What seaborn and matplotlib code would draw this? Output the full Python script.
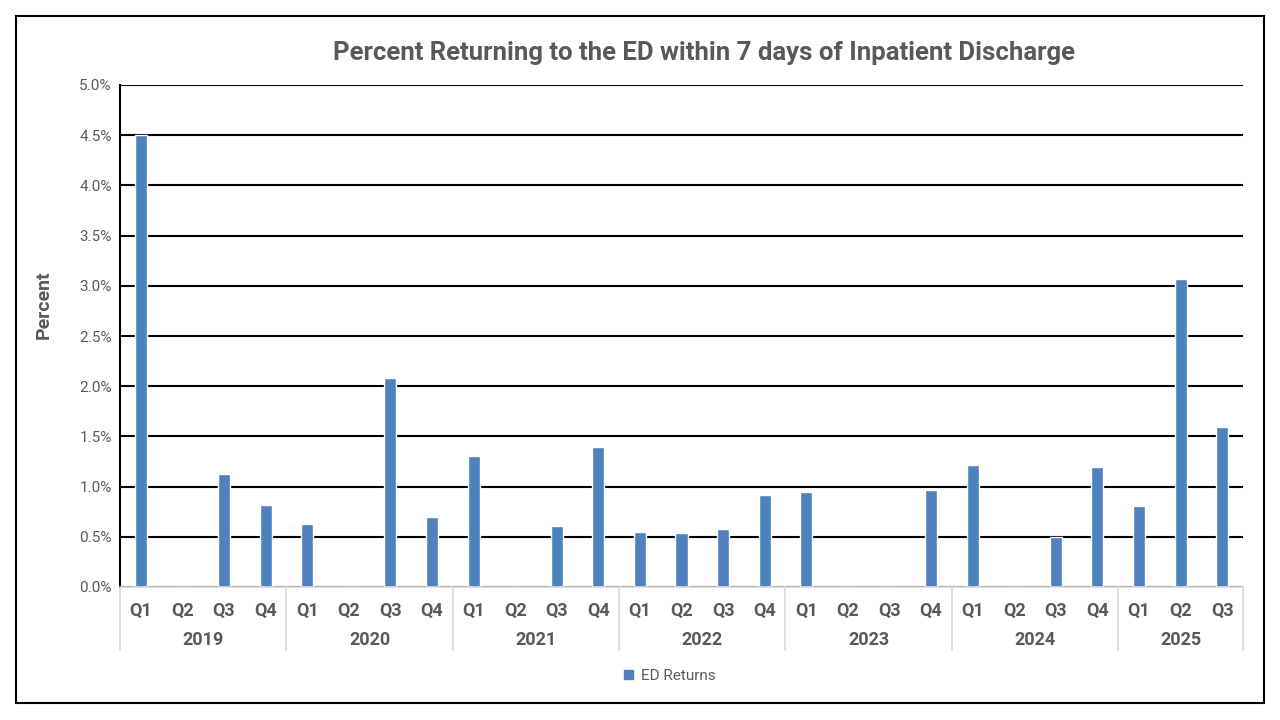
import matplotlib
matplotlib.use("Agg")
import matplotlib.pyplot as plt
import matplotlib.patches as mpatches
import matplotlib.transforms as mtransforms
from matplotlib.ticker import PercentFormatter, MultipleLocator
import seaborn as sns
import pandas as pd

# data (percent)
years = ["2019", "2020", "2021", "2022", "2023", "2024", "2025"]
quarters_per_year = [4, 4, 4, 4, 4, 4, 3]
quarter_names = ["Q1", "Q2", "Q3", "Q4"]
ed_returns = [
    4.50, 0.00, 1.13, 0.82,   # 2019
    0.63, 0.00, 2.08, 0.70,   # 2020
    1.30, 0.00, 0.61, 1.39,   # 2021
    0.55, 0.54, 0.58, 0.92,   # 2022
    0.95, 0.00, 0.00, 0.97,   # 2023
    1.22, 0.00, 0.50, 1.20,   # 2024
    0.81, 3.07, 1.59,         # 2025
]

rows = []
for yr, n in zip(years, quarters_per_year):
    for q in quarter_names[:n]:
        rows.append((yr, q, f"{yr} {q}"))
df = pd.DataFrame(rows, columns=["year", "quarter", "period"])
df["value"] = ed_returns

sns.set_theme(style="white")
plt.rcParams["font.family"] = ["Roboto", "DejaVu Sans"]

text_gray = "#595959"
bar_blue = "#4F81BD"

fig = plt.figure(figsize=(12.8, 7.2), dpi=100)
ax = fig.add_axes([120 / 1280, 1 - 587 / 720, (1243 - 120) / 1280, (587 - 85) / 720])

sns.barplot(data=df, x="period", y="value", color=bar_blue, width=0.29,
            saturation=1, ax=ax)

ax.set_ylim(0, 5)
ax.set_xlim(-0.5, len(df) - 0.5)
ax.yaxis.set_major_locator(MultipleLocator(0.5))
ax.yaxis.set_major_formatter(PercentFormatter(decimals=1))
ax.grid(axis="y", color="black", linewidth=1.5)
ax.set_axisbelow(True)

for side in ["top", "right"]:
    ax.spines[side].set_visible(False)
ax.spines["left"].set_color("black")
ax.spines["left"].set_linewidth(1.5)
ax.spines["bottom"].set_color("#D9D9D9")
ax.spines["bottom"].set_linewidth(1.2)

ax.set_xticks(range(len(df)))
ax.set_xticklabels(df["quarter"], fontsize=13, fontweight="bold", color=text_gray)
ax.tick_params(axis="x", length=0, pad=11)
ax.tick_params(axis="y", length=0, pad=6, labelsize=11, labelcolor=text_gray)
ax.set_xlabel("")
ax.set_ylabel("Percent", fontsize=14, fontweight="bold", color=text_gray)
ax.yaxis.set_label_coords(-0.06, 0.562)

# two-level category axis: year labels and separators
trans = mtransforms.blended_transform_factory(ax.transData, ax.transAxes)
start = 0
for yr, n in zip(years, quarters_per_year):
    ax.plot([start - 0.5, start - 0.5], [0, -0.125], transform=trans,
            color="#D9D9D9", linewidth=1.2, clip_on=False)
    ax.text(start + (n - 1) / 2, -0.105, yr, transform=trans, ha="center", va="center",
            fontsize=13, fontweight="bold", color=text_gray)
    start += n
ax.plot([start - 0.5, start - 0.5], [0, -0.125], transform=trans,
        color="#D9D9D9", linewidth=1.2, clip_on=False)

fig.suptitle("Percent Returning to the ED within 7 days of Inpatient Discharge",
             x=704 / 1280, y=1 - 53 / 720, va="center",
             fontsize=18.5, fontweight="bold", color=text_gray)

handle = mpatches.Patch(color=bar_blue, label="ED Returns")
fig.legend(handles=[handle], loc="center", bbox_to_anchor=(0.523, 1 - 676 / 720),
           frameon=False, fontsize=11, labelcolor=text_gray,
           handlelength=0.6, handleheight=0.6, handletextpad=0.5)

# outer border
fig.patches.append(mpatches.Rectangle((16 / 1280, 1 - 703 / 720), (1264 - 16) / 1280,
                                      (703 - 16) / 720, transform=fig.transFigure,
                                      fill=False, edgecolor="black", linewidth=1.5))

fig.savefig("out.png", dpi=100)
